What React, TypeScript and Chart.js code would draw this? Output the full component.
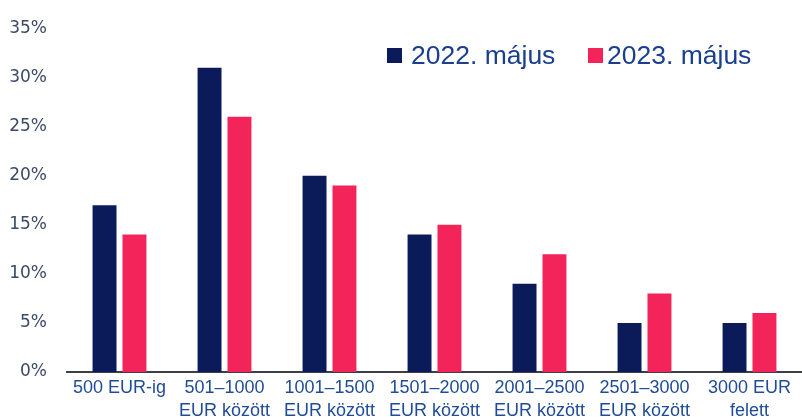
import React, { useEffect, useRef } from "react";
import { Chart, registerables } from "chart.js";

Chart.register(...registerables);

const categories: string[][] = [
  ["500 EUR-ig"],
  ["501–1000", "EUR között"],
  ["1001–1500", "EUR között"],
  ["1501–2000", "EUR között"],
  ["2001–2500", "EUR között"],
  ["2501–3000", "EUR között"],
  ["3000 EUR", "felett"],
];
const series2022 = [17, 31, 20, 14, 9, 5, 5];
const series2023 = [14, 26, 19, 15, 12, 8, 6];
const seriesLabels = ["2022. május", "2023. május"];
const seriesColors = ["#0b1b59", "#f3245a"];

const legendPlugin = {
  id: "customLegend",
  afterDraw(chart: any) {
    const ctx = chart.ctx;
    ctx.save();
    ctx.font = '26.5px "Liberation Sans", Arial, sans-serif';
    ctx.textBaseline = "middle";
    ctx.textAlign = "left";
    const items = [
      { x: 387, tx: 411, label: seriesLabels[0], color: seriesColors[0] },
      { x: 588, tx: 607, label: seriesLabels[1], color: seriesColors[1] },
    ];
    const y = 56;
    for (const it of items) {
      ctx.fillStyle = it.color;
      ctx.fillRect(it.x, y - 8, 15, 15);
      ctx.fillStyle = "#1a3f8f";
      ctx.fillText(it.label, it.tx, y + 1);
    }
    ctx.restore();
  },
};

export default function App() {
  const ref = useRef<HTMLCanvasElement>(null);
  useEffect(() => {
    document.body.style.margin = "0";
    const chart = new Chart(ref.current!, {
      type: "bar",
      data: {
        labels: categories,
        datasets: [
          {
            label: seriesLabels[0],
            data: series2022,
            backgroundColor: seriesColors[0],
            categoryPercentage: 0.57,
            barPercentage: 0.8,
          },
          {
            label: seriesLabels[1],
            data: series2023,
            backgroundColor: seriesColors[1],
            categoryPercentage: 0.57,
            barPercentage: 0.8,
          },
        ],
      },
      options: {
        responsive: false,
        animation: false,
        layout: { padding: { top: 26, right: 0, left: 0, bottom: 0 } },
        plugins: { legend: { display: false }, tooltip: { enabled: false } },
        scales: {
          x: {
            afterFit: (s: any) => {
              s.height = 45;
            },
            grid: { display: false, drawTicks: false },
            border: { display: true, color: "#3a3f4a", width: 2 },
            ticks: {
              color: "#1f4b98",
              font: { family: '"Liberation Sans", Arial, sans-serif', size: 18, lineHeight: 1.25 },
              padding: 5,
              maxRotation: 0,
              autoSkip: false,
            },
          },
          y: {
            min: 0,
            max: 35,
            afterFit: (s: any) => {
              s.width = 67;
            },
            grid: { display: false, drawTicks: false },
            border: { display: false },
            ticks: {
              stepSize: 5,
              padding: 20,
              color: "#3b4a66",
              font: { family: '"DejaVu Sans", sans-serif', size: 17, lineHeight: 1 },
              callback: (v: any) => v + "%",
            },
          },
        },
      },
      plugins: [legendPlugin],
    });
    return () => chart.destroy();
  }, []);
  return <canvas ref={ref} width={802} height={417} style={{ display: "block" }} />;
}
